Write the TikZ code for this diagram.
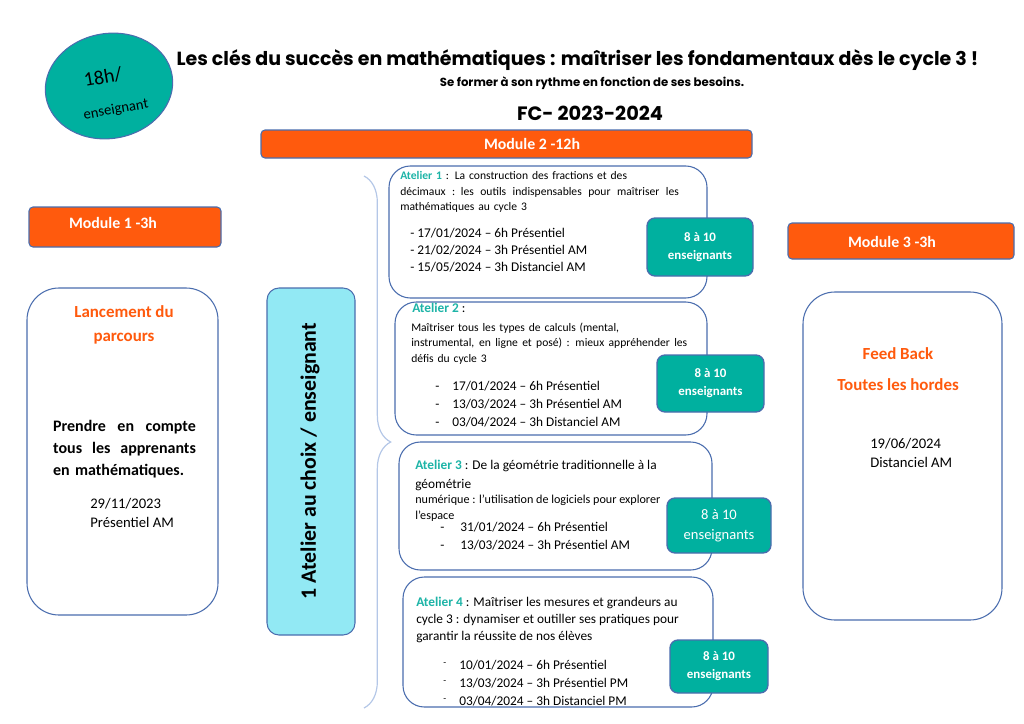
\documentclass[tikz,border=0pt]{standalone}
\usepackage{fontspec}
\setmainfont{Carlito}
\newfontfamily\titlefont{Poppins}
\usetikzlibrary{positioning,shapes.geometric,decorations.pathreplacing}
\definecolor{modorange}{HTML}{FF5A0D}
\definecolor{badgeteal}{HTML}{00B09F}
\definecolor{atelierteal}{HTML}{1DB4A7}
\definecolor{frameblue}{HTML}{4A6DAE}
\definecolor{choixcyan}{HTML}{92E9F4}
\definecolor{braceblue}{HTML}{B4C7E7}
\newcommand{\atl}[1]{\textcolor{atelierteal}{\bfseries #1}}
\newcommand{\stretchline}[2]{\leavevmode\hbox to #1{\spaceskip=0.25em plus 1fil\relax #2}}
\newcommand{\highdash}{\raisebox{0.3em}{\fontsize{7}{8}\selectfont -}}
\tikzset{
  sz/.style 2 args={minimum width=#1*0.75pt,minimum height=#2*0.75pt},
  modbar/.style={draw=frameblue,fill=modorange,rounded corners=3pt,line width=0.8pt,inner sep=0pt},
  modlabel/.style={text=white,font=\bfseries\fontsize{11.9}{13}\selectfont},
  bigbox/.style={draw=frameblue,fill=white,rounded corners=24pt,line width=0.8pt,inner sep=0pt},
  atbox/.style={draw=frameblue,fill=white,rounded corners=16pt,line width=0.8pt,inner sep=0pt},
  badge/.style={draw=frameblue,fill=badgeteal,rounded corners=6pt,line width=1pt,text=white,align=center,inner sep=0pt},
  lines/.style={anchor=north west,inner sep=0pt,align=left},
  hot/.style={text=modorange,font=\bfseries\fontsize{12.7}{18}\selectfont,align=center},
  ladder/.style={decorate,decoration={brace,amplitude=20pt},draw=braceblue,line width=0.9pt}
}

\begin{document}
\begin{tikzpicture}[x=0.75pt,y=-0.75pt]
  \useasboundingbox (0,0) rectangle (1024,724);
  % header
  \node[ellipse,draw=frameblue,fill=badgeteal,line width=0.8pt,sz={128}{105},rotate=10] (hours) at (109,86) {};
  \node[rotate=10,font=\fontsize{15}{17}\selectfont] (hrs) at (103,77) {18h/};
  \node[rotate=10,font=\fontsize{11}{13}\selectfont] (per) at (116,110) {enseignant};
  \node[font=\titlefont\bfseries\fontsize{14.25}{16}\selectfont] (title) at (577.5,60) {Les clés du succès en mathématiques : maîtriser les fondamentaux dès le cycle 3 !};
  \node[font=\titlefont\bfseries\fontsize{8.8}{10}\selectfont] (subtitle) at (592,83) {Se former à son rythme en fonction de ses besoins.};
  \node[font=\titlefont\bfseries\fontsize{14.5}{17}\selectfont] (year) at (590,113) {FC- 2023-2024};
  % module bars
  \node[modbar,sz={491}{28}] (mod2) at (506.5,144) {};
  \node[modlabel] (mod2t) at (532,144) {Module 2 -12h};
  \node[modbar,sz={192}{40}] (mod1) at (125,227) {};
  \node[modlabel] (mod1t) at (113,223) {Module 1 -3h};
  \node[modbar,sz={226}{36}] (mod3) at (901,241) {};
  \node[modlabel] (mod3t) at (892,242) {Module 3 -3h};
  % module 1
  \node[bigbox,sz={191}{327}] (launch) at (122.5,451.5) {};
  \node[hot] (launcht) at (124,325) {Lancement du\\parcours};
  \node[lines,anchor=north,text width=107pt,font=\bfseries\fontsize{12}{16.5}\selectfont] (aim) at (124.5,420)
    {\stretchline{107pt}{Prendre en compte}\\\stretchline{107pt}{tous les apprenants}\\en mathématiques.};
  \node[lines,font=\fontsize{11}{14.25}\selectfont] (launchd) at (90,498) {29/11/2023\\Présentiel AM};
  % choice
  \node[draw=frameblue,fill=choixcyan,rounded corners=9pt,line width=0.8pt,sz={88}{347}] (choix) at (311,461.5) {};
  \node[rotate=90,font=\bfseries\fontsize{16.4}{18}\selectfont] (choixt) at (310,461) {1 Atelier au choix / enseignant};
  \coordinate (brtop) at (364,176);
  \coordinate (brbot) at (364,708);
  \draw[ladder] (brtop) -- (brbot);
  % atelier 1
  \node[atbox,sz={318}{132}] (at1) at (548,232) {};
  \node[lines,text width=230pt,font=\fontsize{8.7}{11.6}\selectfont] (at1d) at (400,171.5)
    {\atl{Atelier 1} : La construction des fractions et des\\
     \stretchline{209pt}{décimaux : les outils indispensables pour maîtriser les}\\
     mathématiques au cycle 3};
  \node[lines,font=\fontsize{10}{12.75}\selectfont] (at1s) at (410,227.5)
    {- 17/01/2024 – 6h Présentiel\\- 21/02/2024 – 3h Présentiel AM\\- 15/05/2024 – 3h Distanciel AM};
  \node[badge,sz={106}{58},font=\bfseries\fontsize{9.7}{13.5}\selectfont] (b1) at (700,247) {8 à 10\\enseignants};
  % atelier 2
  \node[atbox,sz={312}{133}] (at2) at (551,368.5) {};
  \node[lines,font=\fontsize{10}{12}\selectfont] (at2h) at (412,302.5) {\atl{Atelier 2} :};
  \node[lines,text width=208pt,font=\fontsize{8.7}{11.6}\selectfont] (at2d) at (411,322.5)
    {Maîtriser tous les types de calculs (mental,\\
     \stretchline{207pt}{instrumental, en ligne et posé) : mieux appréhender les}\\
     défis du cycle 3};
  \node[lines,font=\fontsize{10}{13.5}\selectfont] (at2s) at (435,380.5)
    {\makebox[12.75pt][l]{-}17/01/2024 – 6h Présentiel\\\makebox[12.75pt][l]{-}13/03/2024 – 3h Présentiel AM\\\makebox[12.75pt][l]{-}03/04/2024 – 3h Distanciel AM};
  \node[badge,sz={107}{57},font=\bfseries\fontsize{9.7}{13.5}\selectfont] (b2) at (710.5,383.5) {8 à 10\\enseignants};
  % atelier 3
  \node[atbox,sz={313}{128}] (at3) at (555.5,506) {};
  \node[lines,font=\fontsize{10}{14.25}\selectfont] (at3h) at (415,460)
    {\atl{Atelier 3} : De la géométrie traditionnelle à la\\géométrie};
  \node[lines,font=\fontsize{9.1}{12}\selectfont] (at3d) at (415,494.5)
    {numérique : l’utilisation de logiciels pour explorer\\l’espace};
  \node[lines,font=\fontsize{10}{13.5}\selectfont] (at3s) at (440,521.5)
    {\makebox[15pt][l]{-}31/01/2024 – 6h Présentiel\\\makebox[15pt][l]{-}13/03/2024 – 3h Présentiel AM};
  \node[badge,sz={104}{55},font=\fontsize{10.9}{15}\selectfont] (b3) at (719,525.5) {8 à 10\\enseignants};
  % atelier 4
  \node[atbox,sz={310}{130}] (at4) at (558,642) {};
  \node[lines,font=\fontsize{10}{12.75}\selectfont] (at4d) at (416,596.5)
    {\atl{Atelier 4} : Maîtriser les mesures et grandeurs au\\cycle 3 : dynamiser et outiller ses pratiques pour\\garantir la réussite de nos élèves};
  \node[lines,font=\fontsize{10}{13.5}\selectfont] (at4s) at (443,660)
    {\makebox[12pt][l]{\highdash}10/01/2024 – 6h Présentiel\\\makebox[12pt][l]{\highdash}13/03/2024 – 3h Présentiel PM\\\makebox[12pt][l]{\highdash}03/04/2024 – 3h Distanciel PM};
  \node[badge,sz={98}{53},font=\bfseries\fontsize{9.7}{13.5}\selectfont] (b4) at (719,666.5) {8 à 10\\enseignants};
  % module 3
  \node[bigbox,sz={199}{328}] (feed) at (902.5,456) {};
  \node[hot,font=\bfseries\fontsize{12.7}{23.25}\selectfont] (feedt) at (898,369.5) {Feed Back\\Toutes les hordes};
  \node[lines,font=\fontsize{11}{14.25}\selectfont] (feedd) at (870,438) {19/06/2024\\Distanciel AM};
\end{tikzpicture}
\end{document}
